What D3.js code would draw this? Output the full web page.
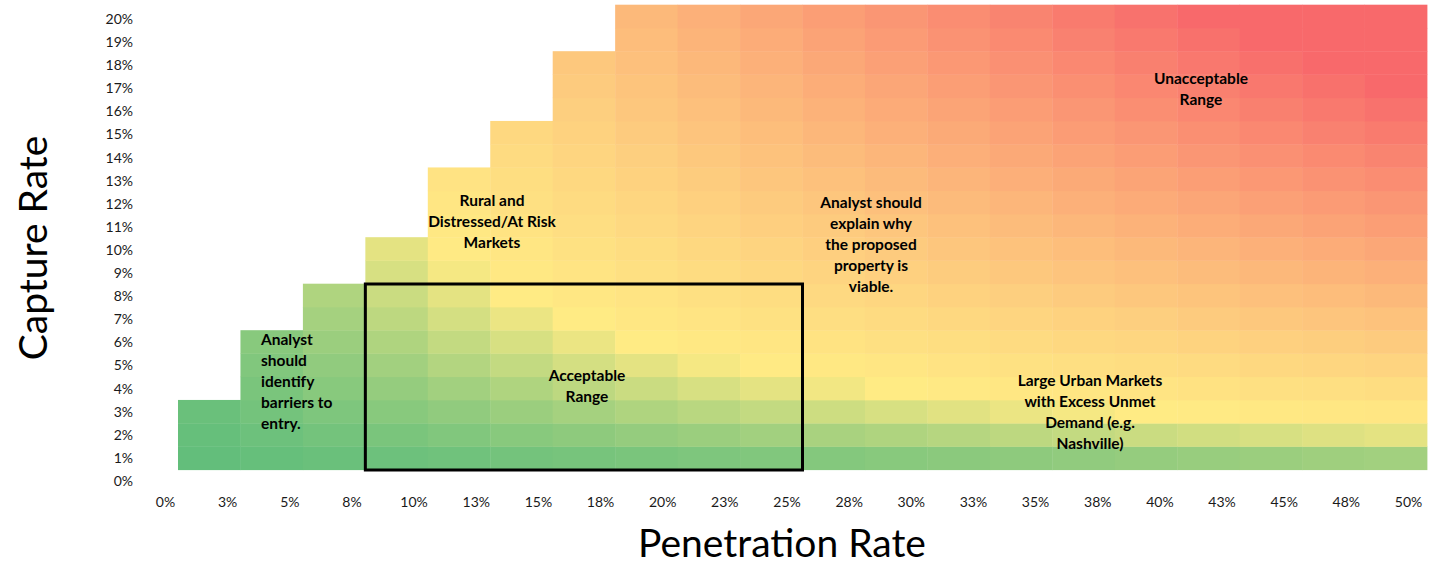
<!DOCTYPE html>
<html>
<head>
<meta charset="utf-8">
<script src="https://cdn.jsdelivr.net/npm/d3@7"></script>
<style>
  body { margin: 0; background: #fff; }
  text { font-family: Lato, "Open Sans", sans-serif; }
</style>
</head>
<body>
<div id="chart"></div>
<script>
const width = 1441;
const height = 567;

// columns (penetration rate %) and rows (capture rate %)
const penetration = [2.5, 5, 7.5, 10, 12.5, 15, 17.5, 20, 22.5, 25, 27.5, 30, 32.5, 35, 37.5, 40, 42.5, 45, 47.5, 50];
const capture = [1, 2, 3, 4, 5, 6, 7, 8, 9, 10, 11, 12, 13, 14, 15, 16, 17, 18, 19, 20];

const xTickLabels = ["0%", "3%", "5%", "8%", "10%", "13%", "15%", "18%", "20%", "23%", "25%",
  "28%", "30%", "33%", "35%", "38%", "40%", "43%", "45%", "48%", "50%"];
const yTickLabels = ["0%", "1%", "2%", "3%", "4%", "5%", "6%", "7%", "8%", "9%", "10%",
  "11%", "12%", "13%", "14%", "15%", "16%", "17%", "18%", "19%", "20%"];

// heat value of each cell, one row per capture rate (1% first), null = empty cell
const heat = [
  [2.5, 5, 7.5, 10, 12.5, 15, 17.5, 20, 22.5, 25, 27.5, 30, 32.5, 35, 37.5, 40, 42.5, 45, 47.5, 50],
  [5, 10, 15, 20, 25, 30, 35, 40, 45, 50, 55, 60, 65, 70, 75, 80, 85, 90, 95, 100],
  [7.5, 15, 22.5, 30, 37.5, 45, 52.5, 60, 67.5, 75, 82.5, 90, 97.5, 105, 112.5, 120, 127.5, 135, 142.5, 150],
  [null, 20, 30, 40, 50, 60, 70, 80, 90, 100, 110, 120, 130, 140, 150, 160, 170, 180, 190, 200],
  [null, 25, 37.5, 50, 62.5, 75, 87.5, 100, 112.5, 125, 137.5, 150, 162.5, 175, 187.5, 200, 212.5, 225, 237.5, 250],
  [null, 30, 45, 60, 75, 90, 105, 120, 135, 150, 165, 180, 195, 210, 225, 240, 255, 270, 285, 300],
  [null, null, 52.5, 70, 87.5, 105, 122.5, 140, 157.5, 175, 192.5, 210, 227.5, 245, 262.5, 280, 297.5, 315, 332.5, 350],
  [null, null, 60, 80, 100, 120, 140, 160, 180, 200, 220, 240, 260, 280, 300, 320, 340, 360, 380, 400],
  [null, null, null, 90, 112.5, 135, 157.5, 180, 202.5, 225, 247.5, 270, 292.5, 315, 337.5, 360, 382.5, 405, 427.5, 450],
  [null, null, null, 100, 125, 150, 175, 200, 225, 250, 275, 300, 325, 350, 375, 400, 425, 450, 475, 500],
  [null, null, null, null, 137.5, 165, 192.5, 220, 247.5, 275, 302.5, 330, 357.5, 385, 412.5, 440, 467.5, 495, 522.5, 550],
  [null, null, null, null, 150, 180, 210, 240, 270, 300, 330, 360, 390, 420, 450, 480, 510, 540, 570, 600],
  [null, null, null, null, 162.5, 195, 227.5, 260, 292.5, 325, 357.5, 390, 422.5, 455, 487.5, 520, 552.5, 585, 617.5, 650],
  [null, null, null, null, null, 210, 245, 280, 315, 350, 385, 420, 455, 490, 525, 560, 595, 630, 665, 700],
  [null, null, null, null, null, 225, 262.5, 300, 337.5, 375, 412.5, 450, 487.5, 525, 562.5, 600, 637.5, 675, 712.5, 750],
  [null, null, null, null, null, null, 280, 320, 360, 400, 440, 480, 520, 560, 600, 640, 680, 720, 760, 800],
  [null, null, null, null, null, null, 297.5, 340, 382.5, 425, 467.5, 510, 552.5, 595, 637.5, 680, 722.5, 765, 807.5, 850],
  [null, null, null, null, null, null, 315, 360, 405, 450, 495, 540, 585, 630, 675, 720, 765, 810, 855, 900],
  [null, null, null, null, null, null, null, 380, 427.5, 475, 522.5, 570, 617.5, 665, 712.5, 760, 807.5, 855, 902.5, 950],
  [null, null, null, null, null, null, null, 400, 450, 500, 550, 600, 650, 700, 750, 800, 850, 900, 950, 1000]
];

// acceptable range box
const acceptPen = [10, 25];
const acceptCap = [1, 8];

const notes = [
  { lines: ["Unacceptable", "Range"], x: 1201, y: 79, anchor: "middle" },
  { lines: ["Analyst should", "explain why", "the proposed", "property is", "viable."], x: 871, y: 203, anchor: "middle" },
  { lines: ["Rural and", "Distressed/At Risk", "Markets"], x: 492, y: 201, anchor: "middle" },
  { lines: ["Analyst", "should", "identify", "barriers to", "entry."], x: 261, y: 340, anchor: "start" },
  { lines: ["Acceptable", "Range"], x: 587, y: 376, anchor: "middle" },
  { lines: ["Large Urban Markets", "with Excess Unmet", "Demand (e.g.", "Nashville)"], x: 1090, y: 381, anchor: "middle" }
];

const svg = d3.select("#chart")
  .append("svg")
  .attr("width", width)
  .attr("height", height);

// band scales for the cells
const x = d3.scaleBand().domain(penetration).range([178, 1427]);
const y = d3.scaleBand().domain(capture).range([470, 5]);

// label scales (Excel puts the labels a little off the cell centres)
const xLab = d3.scalePoint().domain(xTickLabels).range([165, 1408]);
const yLab = d3.scalePoint().domain(yTickLabels).range([481, 19]);

const color = d3.scaleLinear()
  .domain([2.5, 120, 850])
  .range(["#63BE7B", "#FFEB84", "#F8696B"])
  .clamp(true);

const cells = [];
heat.forEach((row, i) => {
  row.forEach((v, j) => {
    if (v != null) cells.push({ p: penetration[j], c: capture[i], v: v });
  });
});

svg.append("g")
  .selectAll("rect")
  .data(cells)
  .enter()
  .append("rect")
  .attr("x", d => x(d.p))
  .attr("y", d => y(d.c) - 0.3)
  .attr("width", x.bandwidth() + 0.4)
  .attr("height", y.bandwidth() + 0.4)
  .attr("fill", d => color(d.v));

// x axis labels
const gx = svg.append("g")
  .attr("transform", "translate(0,497)")
  .call(d3.axisBottom(xLab).tickSize(0).tickPadding(0));
gx.select(".domain").remove();
gx.selectAll("text")
  .attr("font-family", "Lato, sans-serif")
  .attr("font-size", 14)
  .attr("fill", "#1a1a1a");

// y axis labels
const gy = svg.append("g")
  .attr("transform", "translate(133,0)")
  .call(d3.axisLeft(yLab).tickSize(0).tickPadding(0));
gy.select(".domain").remove();
gy.selectAll("text")
  .attr("font-family", "Lato, sans-serif")
  .attr("font-size", 14)
  .attr("fill", "#1a1a1a");

// acceptable range outline
const bx0 = x(acceptPen[0]);
const bx1 = x(acceptPen[1]) + x.bandwidth();
const by0 = y(acceptCap[1]);
const by1 = y(acceptCap[0]) + y.bandwidth();
svg.append("rect")
  .attr("x", bx0)
  .attr("y", by0)
  .attr("width", bx1 - bx0)
  .attr("height", by1 - by0)
  .attr("fill", "none")
  .attr("stroke", "#000")
  .attr("stroke-width", 3);

// annotations
notes.forEach(n => {
  const t = svg.append("text")
    .attr("x", n.x)
    .attr("y", n.y)
    .attr("text-anchor", n.anchor)
    .attr("font-size", 15.5)
    .attr("font-weight", "bold")
    .attr("fill", "#000");
  n.lines.forEach((l, i) => {
    t.append("tspan")
      .attr("x", n.x)
      .attr("y", n.y + i * 21)
      .attr("dy", "0.35em")
      .text(l);
  });
});

// axis titles
svg.append("text")
  .attr("x", 782)
  .attr("y", 557)
  .attr("text-anchor", "middle")
  .attr("font-size", 39)
  .attr("fill", "#000")
  .text("Penetration Rate");

svg.append("text")
  .attr("transform", "translate(47,248) rotate(-90)")
  .attr("text-anchor", "middle")
  .attr("font-size", 39)
  .attr("fill", "#000")
  .text("Capture Rate");
</script>
</body>
</html>
